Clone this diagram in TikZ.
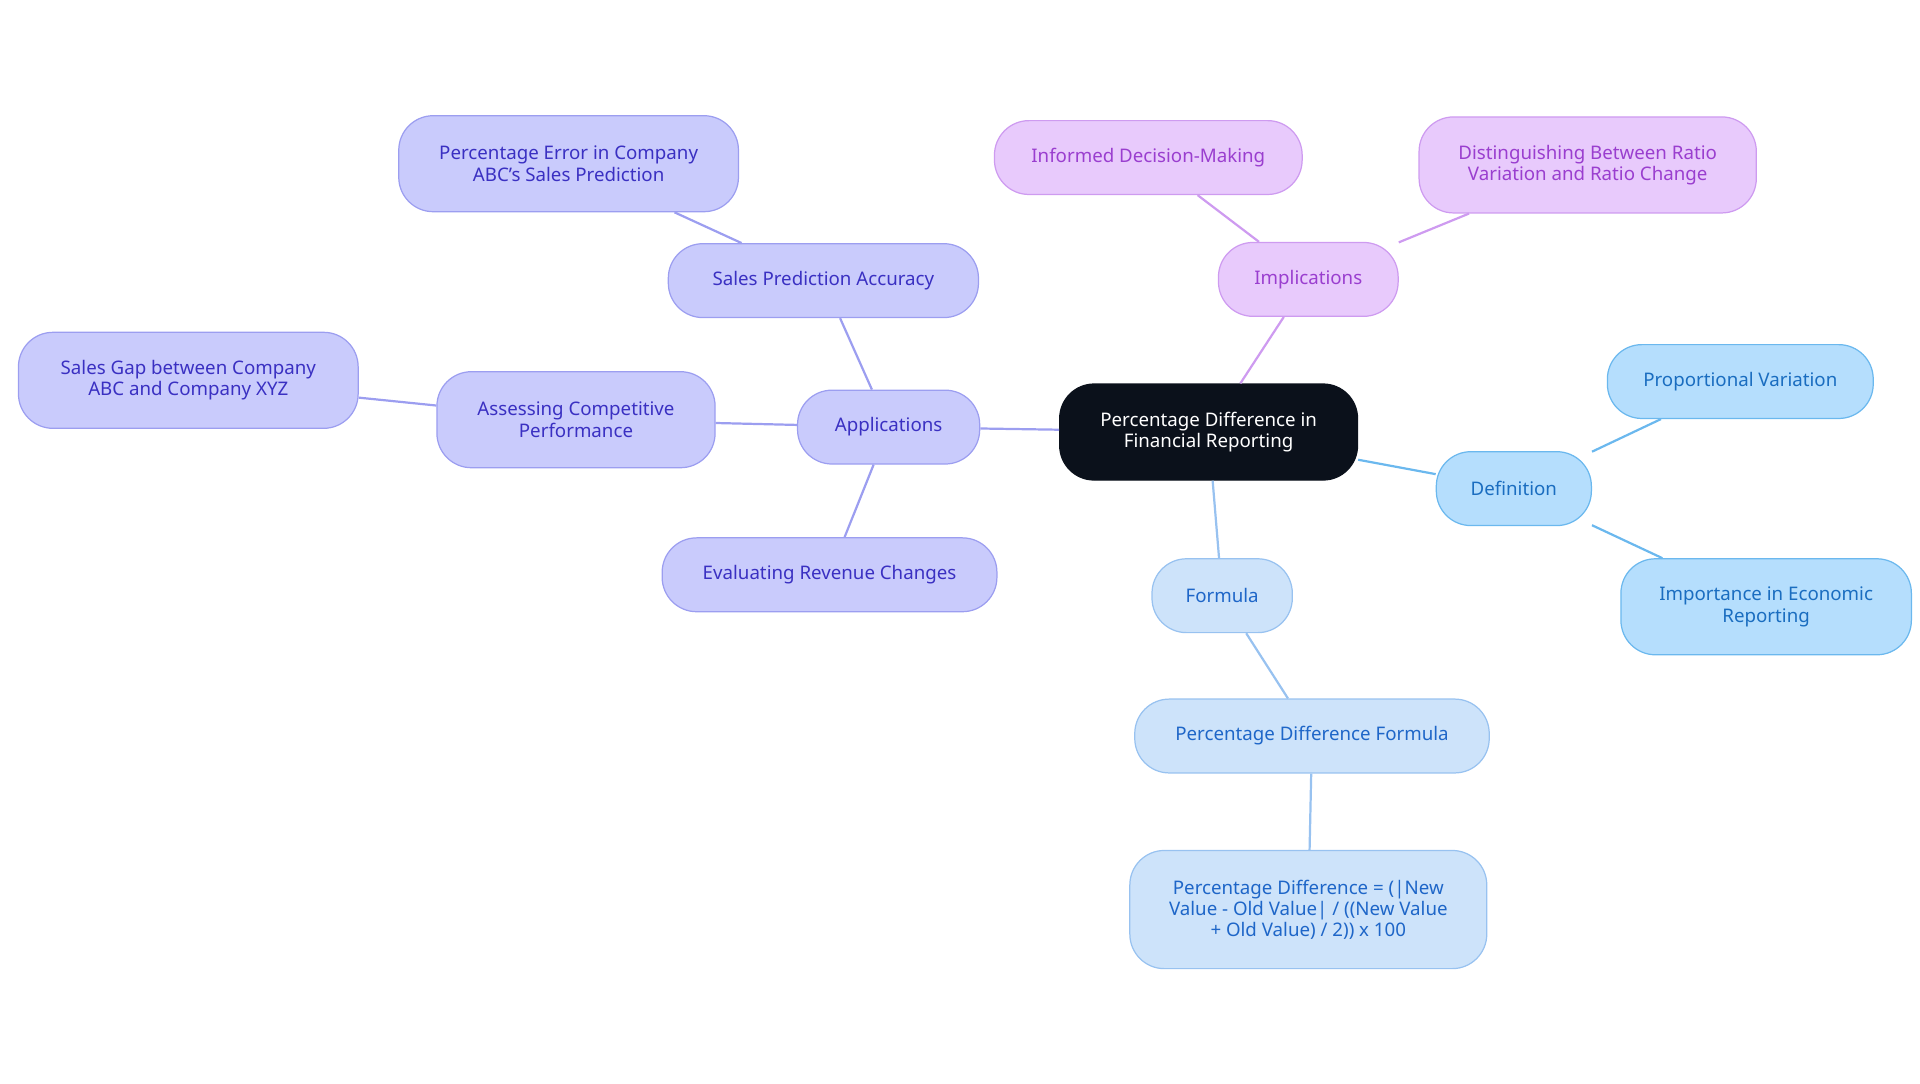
\documentclass[tikz,border=0pt]{standalone}
\usepackage{fontspec}
\setmainfont{Noto Sans}
\usepackage{xcolor}
\usetikzlibrary{positioning}

\definecolor{rootfill}{HTML}{0B111B}
\definecolor{appfill}{HTML}{C9CBFC}
\definecolor{appline}{HTML}{9C9EF0}
\definecolor{apptext}{HTML}{3A30C2}
\definecolor{impfill}{HTML}{E8CAFC}
\definecolor{impline}{HTML}{CE9BF0}
\definecolor{imptext}{HTML}{9A3ECF}
\definecolor{deffill}{HTML}{B5DEFD}
\definecolor{defline}{HTML}{6BB8EE}
\definecolor{deftext}{HTML}{1A6DC0}
\definecolor{forfill}{HTML}{CDE3FA}
\definecolor{forline}{HTML}{98C2F0}
\definecolor{fortext}{HTML}{1E66C8}

\tikzset{
  box/.style={rounded corners=14pt,align=center,line width=0.5pt,
    font=\fontsize{7.6}{8.6}\selectfont,inner sep=2pt},
  app/.style={box,fill=appfill,draw=appline,text=apptext},
  imp/.style={box,fill=impfill,draw=impline,text=imptext},
  def/.style={box,fill=deffill,draw=defline,text=deftext},
  for/.style={box,fill=forfill,draw=forline,text=fortext},
  appedge/.style={draw=appline,line width=0.9pt},
  impedge/.style={draw=impline,line width=0.9pt},
  defedge/.style={draw=defline,line width=0.9pt},
  foredge/.style={draw=forline,line width=0.9pt},
}

\begin{document}
\begin{tikzpicture}[x=0.5pt,y=-0.5pt]
\useasboundingbox (0,0) rectangle (1560,880);

\node[box,fill=rootfill,draw=rootfill,text=white,minimum width=121pt,minimum height=39pt] (root) at (982,351) {Percentage Difference in\\Financial Reporting};

\node[app,minimum width=74pt,minimum height=30pt]   (apps)  at (722,347) {Applications};
\node[app,minimum width=126pt,minimum height=30pt]  (spa)   at (669,228) {Sales Prediction Accuracy};
\node[app,minimum width=138pt,minimum height=39pt]  (perr)  at (462,133) {Percentage Error in Company\\ABC's Sales Prediction};
\node[app,minimum width=113pt,minimum height=39pt]  (acp)   at (468,341) {Assessing Competitive\\Performance};
\node[app,minimum width=138pt,minimum height=39pt]  (gap)   at (153,309) {Sales Gap between Company\\ABC and Company XYZ};
\node[app,minimum width=136pt,minimum height=30pt]  (erc)   at (674,467) {Evaluating Revenue Changes};

\node[imp,minimum width=73pt,minimum height=30pt]   (impl)  at (1063,227) {Implications};
\node[imp,minimum width=125pt,minimum height=30pt]  (idm)   at (933,128) {Informed Decision-Making};
\node[imp,minimum width=137pt,minimum height=39pt]  (dist)  at (1290,134) {Distinguishing Between Ratio\\Variation and Ratio Change};

\node[def,minimum width=63pt,minimum height=30pt]   (defn)  at (1230,397) {Definition};
\node[def,minimum width=108pt,minimum height=30pt]  (prop)  at (1414,310) {Proportional Variation};
\node[def,minimum width=118pt,minimum height=39pt]  (imp)   at (1435,493) {Importance in Economic\\Reporting};

\node[for,minimum width=57pt,minimum height=30pt]   (form)  at (993,484) {Formula};
\node[for,minimum width=144pt,minimum height=30pt]  (pdf)   at (1066,598) {Percentage Difference Formula};
\node[for,minimum width=145pt,minimum height=48pt]  (eq)    at (1063,739) {Percentage Difference = (|New\\Value - Old Value| / ((New Value\\+ Old Value) / 2)) x 100};

\begin{scope}[on background layer/.try]
\path[appedge] (root) -- (apps) (apps) -- (spa) (spa) -- (perr)
  (apps) -- (acp) (acp) -- (gap) (apps) -- (erc);
\path[impedge] (root) -- (impl) (impl) -- (idm) (impl) -- (dist);
\path[defedge] (root) -- (defn) (defn) -- (prop) (defn) -- (imp);
\path[foredge] (root) -- (form) (form) -- (pdf) (pdf) -- (eq);
\end{scope}
\end{tikzpicture}
\end{document}
